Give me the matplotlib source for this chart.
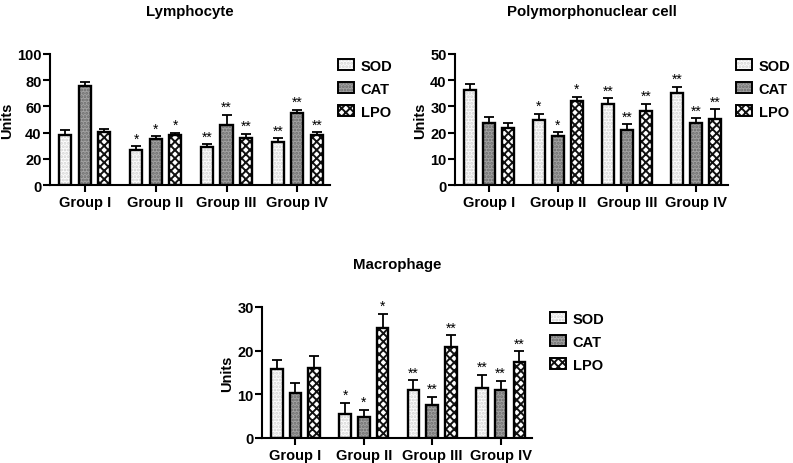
import matplotlib
matplotlib.use("Agg")
import matplotlib.pyplot as plt
import numpy as np
from matplotlib.patches import Patch
from matplotlib.legend_handler import HandlerTuple

plt.rcParams['font.family'] = ['Liberation Sans', 'DejaVu Sans']
plt.rcParams['font.weight'] = 'bold'
plt.rcParams['hatch.linewidth'] = 1.4

groups = ["Group I", "Group II", "Group III", "Group IV"]
series = ["SOD", "CAT", "LPO"]

# Lymphocyte
lym_sod = [38, 27, 29, 32.7]
lym_sod_err = [4.3, 2.6, 2.0, 3.3]
lym_cat = [75.5, 35, 45.6, 55]
lym_cat_err = [3.0, 2.5, 8.1, 2.5]
lym_lpo = [40.5, 38, 36.2, 38.5]
lym_lpo_err = [2.5, 2.0, 3.0, 2.0]
lym_sig = [["", "*", "**", "**"], ["", "*", "**", "**"], ["", "*", "**", "**"]]

# Polymorphonuclear cell
pmn_sod = [36.3, 24.9, 30.8, 35.1]
pmn_sod_err = [2.2, 2.3, 2.4, 2.4]
pmn_cat = [23.8, 18.6, 21.1, 23.5]
pmn_cat_err = [2.2, 1.7, 2.2, 2.1]
pmn_lpo = [21.6, 32.0, 28.1, 25.1]
pmn_lpo_err = [2.2, 1.7, 3.0, 3.8]
pmn_sig = lym_sig

# Macrophage
mac_sod = [15.7, 5.6, 11.0, 11.5]
mac_sod_err = [2.2, 2.5, 2.2, 3.0]
mac_cat = [10.3, 4.7, 7.5, 11.1]
mac_cat_err = [2.2, 1.8, 2.0, 2.0]
mac_lpo = [16.0, 25.3, 20.8, 17.5]
mac_lpo_err = [2.8, 3.2, 2.7, 2.4]
mac_sig = lym_sig

styles = [
    dict(face='#fdfdfd', hatch='.....', hcol='#d2d2d2'),
    dict(face='#a3a3a3', hatch='.....', hcol='#6a6a6a'),
    dict(face='#ffffff', hatch='xxxx', hcol='#111111'),
]

FS = 10.5
W = 0.17
OFF = [-0.275, 0.0, 0.275]

fig = plt.figure(figsize=(7.93, 4.64), dpi=100)


def panel(rect, title, vals, errs, sigs, ymax, ystep, leg_x):
    ax = fig.add_axes(rect)
    x = np.arange(len(groups))
    for i in range(3):
        st = styles[i]
        xs = x + OFF[i]
        ax.bar(xs, vals[i], W, color=st['face'], hatch=st['hatch'],
               edgecolor=st['hcol'], linewidth=0, zorder=2)
        ax.bar(xs, vals[i], W, fill=False, edgecolor='black', linewidth=1.7, zorder=3)
        ax.errorbar(xs, vals[i], yerr=[np.zeros(len(groups)), errs[i]], fmt='none',
                    ecolor='black', elinewidth=1.3, capsize=3.5, capthick=1.3, zorder=4)
        for xx, v, e, s in zip(xs, vals[i], errs[i], sigs[i]):
            if s:
                ax.text(xx, v + e + ymax * 0.004, s, ha='center', va='bottom',
                        fontsize=10, fontweight='normal')
    ax.set_xlim(-0.49, 3.46)
    ax.set_ylim(0, ymax)
    ax.set_yticks(np.arange(0, ymax + 0.1, ystep))
    ax.set_xticks(x)
    ax.set_xticklabels(groups)
    for s in ['top', 'right']:
        ax.spines[s].set_visible(False)
    for s in ['left', 'bottom']:
        ax.spines[s].set_linewidth(1.5)
    ax.tick_params(axis='both', width=1.5, length=5, labelsize=FS, pad=2)
    ax.tick_params(axis='y', pad=1)
    for lab in ax.get_xticklabels() + ax.get_yticklabels():
        lab.set_fontweight('bold')
    ax.set_ylabel("Units", fontsize=FS, fontweight='bold', labelpad=2)
    ax.set_title(title, fontsize=10.8, fontweight='bold', pad=28)
    handles = []
    for st in styles:
        p1 = Patch(facecolor=st['face'], hatch=st['hatch'], edgecolor=st['hcol'], linewidth=0)
        p2 = Patch(fill=False, edgecolor='black', linewidth=1.4)
        handles.append((p1, p2))
    ax.legend(handles, series, handler_map={tuple: HandlerTuple(ndivide=1)},
              loc='upper left', bbox_to_anchor=(leg_x, 0.965), frameon=False,
              borderaxespad=0, borderpad=0, handlelength=1.1, handleheight=0.75,
              handletextpad=0.45, labelspacing=0.62, prop=dict(size=FS, weight='bold'))
    return ax


panel([50 / 793, 1 - 186 / 464, 280 / 793, 131 / 464], "Lymphocyte",
      [lym_sod, lym_cat, lym_lpo], [lym_sod_err, lym_cat_err, lym_lpo_err],
      lym_sig, 100, 20, 1.029)
panel([455 / 793, 1 - 186 / 464, 273 / 793, 131 / 464], "Polymorphonuclear cell",
      [pmn_sod, pmn_cat, pmn_lpo], [pmn_sod_err, pmn_cat_err, pmn_lpo_err],
      pmn_sig, 50, 10, 1.03)
panel([262 / 793, 1 - 439 / 464, 270 / 793, 131 / 464], "Macrophage",
      [mac_sod, mac_cat, mac_lpo], [mac_sod_err, mac_cat_err, mac_lpo_err],
      mac_sig, 30, 10, 1.067)

fig.savefig("out.png", dpi=100)
